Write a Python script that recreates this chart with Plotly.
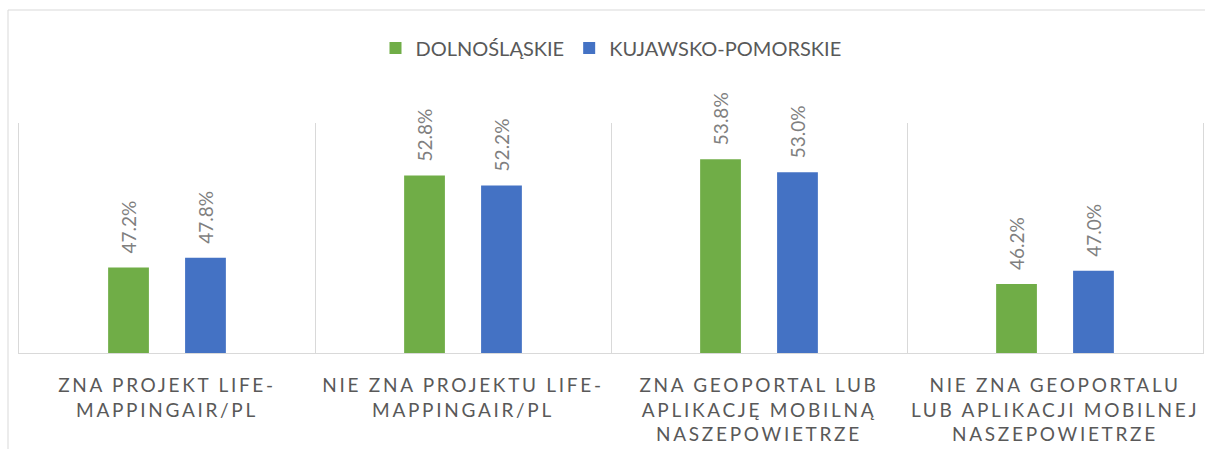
import plotly.graph_objects as go

categories = [
    "ZNA PROJEKT LIFE-<br>MAPPINGAIR/PL",
    "NIE ZNA PROJEKTU LIFE-<br>MAPPINGAIR/PL",
    "ZNA GEOPORTAL LUB<br>APLIKACJĘ MOBILNĄ<br>NASZEPOWIETRZE",
    "NIE ZNA GEOPORTALU<br>LUB APLIKACJI MOBILNEJ<br>NASZEPOWIETRZE",
]
series_names = ["DOLNOŚLĄSKIE", "KUJAWSKO-POMORSKIE"]
dolnoslaskie = [47.2, 52.8, 53.8, 46.2]
kujawsko = [47.8, 52.2, 53.0, 47.0]
colors = ["#70AD47", "#4472C4"]

FONT = "Lato"
L, R, T, B = 19, 2, 123, 96
W, H = 1205, 449
plot_w = W - L - R
plot_h = H - T - B

fig = go.Figure()
for name, vals, col in zip(series_names, [dolnoslaskie, kujawsko], colors):
    fig.add_trace(go.Bar(x=categories, y=vals, name=name,
                         marker=dict(color=col, line=dict(width=0))))

# data labels
slot_px = plot_w / len(categories) * (1 - 0.48) / 2
for k, vals in enumerate([dolnoslaskie, kujawsko]):
    shift = (-0.5 + k) * slot_px
    for cat, v in zip(categories, vals):
        fig.add_annotation(x=cat, y=v, xref="x", yref="y", text=f"{v:.1f}%",
                           textangle=-90, showarrow=False, xshift=shift,
                           yanchor="bottom", yshift=12,
                           font=dict(family=FONT, size=19, color="#7F7F7F"))

# outer chart frame
fig.add_shape(type="line", xref="paper", yref="paper",
              x0=(8 - L) / plot_w, x1=(8 - L) / plot_w,
              y0=(T + plot_h - 10) / plot_h, y1=-1,
              line=dict(color="#D9D9D9", width=1))
fig.add_shape(type="line", xref="paper", yref="paper",
              x0=(8 - L) / plot_w, x1=1.1,
              y0=(T + plot_h - 10) / plot_h, y1=(T + plot_h - 10) / plot_h,
              line=dict(color="#D9D9D9", width=1))

fig.update_layout(
    width=W, height=H,
    margin=dict(l=L, r=R, t=T, b=B, autoexpand=False),
    paper_bgcolor="white", plot_bgcolor="white",
    barmode="group", bargap=0.48, bargroupgap=0.47,
    font=dict(family=FONT, color="#595959"),
    legend=dict(orientation="h", x=(611 - L) / plot_w, xanchor="center",
                y=(T + plot_h - 48) / plot_h, yanchor="middle",
                font=dict(family=FONT, size=20, color="#595959"),
                itemwidth=30, traceorder="normal"),
    xaxis=dict(type="category", categoryorder="array", categoryarray=categories,
               tickson="boundaries", ticks="", showgrid=True,
               gridcolor="#D9D9D9", gridwidth=1,
               showline=True, linecolor="#D9D9D9", linewidth=1,
               tickfont=dict(family=FONT, size=19, color="#595959"),
               ticklabelstandoff=15, automargin=False),
    yaxis=dict(range=[42, 56], showgrid=False, showticklabels=False,
               zeroline=False, showline=True, mirror=True,
               linecolor="#D9D9D9", linewidth=1, ticks=""),
)

post = """
document.body.style.margin='0';
var s=document.createElement('style');
s.innerHTML='body{margin:0;} .xtick text{letter-spacing:2.7px;}';
document.head.appendChild(s);
"""
fig.write_html("out.html", post_script=post, config={"displayModeBar": False})
